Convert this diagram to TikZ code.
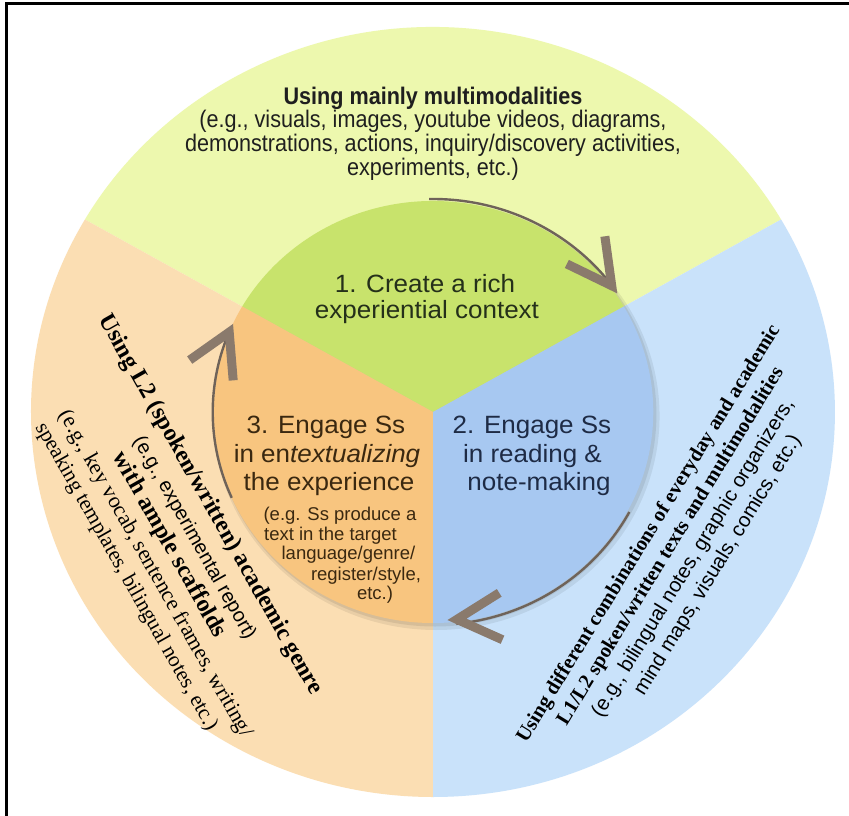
\documentclass[tikz,border=0pt]{standalone}
\usepackage{fontspec}
\setmainfont{Liberation Sans}
\newfontfamily\narrowsans[FakeStretch=0.9]{Liberation Sans}
\newfontfamily\widesans[FakeStretch=1.04]{Liberation Sans}
\newfontfamily\timesf{Liberation Serif}
\definecolor{ogreen}{HTML}{EDF8AE}
\definecolor{igreen}{HTML}{C8E36C}
\definecolor{oorange}{HTML}{FBDEB3}
\definecolor{iorange}{HTML}{F8C57F}
\definecolor{oblue}{HTML}{C9E2FA}
\definecolor{iblue}{HTML}{A7C8F1}
\definecolor{arrowc}{HTML}{8A7A6C}
\definecolor{arcc}{HTML}{6F6359}
\definecolor{labg}{HTML}{25301A}
\definecolor{labb}{HTML}{1E2B45}
\definecolor{labo}{HTML}{3A2810}
\tikzset{
  toptxt/.style={font=\narrowsans\fontsize{24}{24}\selectfont, anchor=base, text=black!88, inner sep=0},
  lab/.style={font=\widesans\fontsize{25}{28}\selectfont, anchor=base, inner sep=0},
  smalltxt/.style={font=\fontsize{18.5}{20}\selectfont, anchor=base, inner sep=0, text=labo},
  rotl/.style={rotate=-60.5, inner sep=0, anchor=center},
  rotr/.style={rotate=58.5, inner sep=0, anchor=center},
  chev/.style={draw=arrowc, line width=9pt, line join=miter, line cap=butt},
  arcl/.style={draw=arcc, line width=2.4pt},
}
\begin{document}
\begin{tikzpicture}[x=1pt,y=-1pt]
\useasboundingbox (0,0) rectangle (849,816);
\fill[white] (0,0) rectangle (849,816);
\begin{scope}[shift={(433,412)}, xscale=1.044, yscale=-1]
  \fill[ogreen] (0,0) -- (30:385) arc[start angle=30, end angle=150, radius=385] -- cycle;
  \fill[oorange] (0,0) -- (150:385) arc[start angle=150, end angle=270, radius=385] -- cycle;
  \fill[oblue] (0,0) -- (270:385) arc[start angle=270, end angle=390, radius=385] -- cycle;
  \fill[black, opacity=0.07] (3,-4) circle[radius=214];
  \fill[black, opacity=0.08] (2,-2.5) circle[radius=212];
  \fill[igreen] (0,0) -- (30:211) arc[start angle=30, end angle=150, radius=211] -- cycle;
  \fill[iorange] (0,0) -- (150:211) arc[start angle=150, end angle=270, radius=211] -- cycle;
  \fill[iblue] (0,0) -- (270:211) arc[start angle=270, end angle=390, radius=211] -- cycle;
  \draw[arcl] (91:213) arc[start angle=91, end angle=36, radius=213];
  \draw[arcl] (332:213) arc[start angle=332, end angle=276, radius=213];
  \draw[arcl] (204:211) arc[start angle=204, end angle=157, radius=211];
\end{scope}
% chevrons
\draw[chev, shift={(617,293)}, rotate=-54] (-53,23.5) -- (-9,0) -- (-53,-23.5);
\draw[chev, shift={(448,620)}, rotate=184] (-53,23.5) -- (-9,0) -- (-53,-23.5);
\draw[chev, shift={(233,324)}, rotate=65] (-51,24) -- (-9,0) -- (-51,-24);
% top text
\node[toptxt] (t1) at (433,104) {\textbf{Using mainly multimodalities}};
\node[toptxt] (t2) at (433,128) {(e.g., visuals, images, youtube videos, diagrams,};
\node[toptxt] (t3) at (433,151.5) {demonstrations, actions, inquiry/discovery activities,};
\node[toptxt] (t4) at (433,175) {experiments, etc.)};
% inner labels
\node[lab, text=labg] (l1a) at (425,292) {1. Create a rich};
\node[lab, text=labg] (l1b) at (427,318) {experiential context};
\node[lab, text=labo] (l3a) at (326,433) {3. Engage Ss};
\node[lab, text=labo] (l3b) at (327,462) {in en\textit{textualizing}};
\node[lab, text=labo] (l3c) at (329,490) {the experience};
\node[smalltxt] (s1) at (340,520) {(e.g. Ss produce a};
\node[smalltxt] (s2) at (330.5,540) {text in the target};
\node[smalltxt] (s3) at (348.5,559) {language/genre/};
\node[smalltxt] (s4) at (366,580) {register/style,};
\node[smalltxt] (s5) at (375,599) {etc.)};
\node[lab, text=labb] (l2a) at (532,433) {2. Engage Ss};
\node[lab, text=labb] (l2b) at (532.5,462) {in reading \&};
\node[lab, text=labb] (l2c) at (539,490) {note-making};
% left rotated text
\node[rotl, font=\timesf\bfseries\fontsize{24}{26}\selectfont] (lt1) at (210,505) {Using L2 (spoken/written) academic genre};
\node[rotl, font=\fontsize{20}{22}\selectfont] (lt2) at (194,538) {(e.g., experimental report)};
\node[rotl, font=\timesf\bfseries\fontsize{24}{26}\selectfont] (lt3) at (169,545) {with ample scaffolds};
\node[rotl, font=\timesf\fontsize{22}{24}\selectfont] (lt4) at (155,574) {(e.g., key vocab, sentence frames, writing/};
\node[rotl, font=\timesf\fontsize{21.5}{24}\selectfont] (lt5) at (126,577) {speaking templates, bilingual notes, etc.)};
% right rotated text
\node[rotr, font=\timesf\bfseries\fontsize{20.5}{23}\selectfont] (rt1) at (649,534) {Using different combinations of everyday and academic};
\node[rotr, font=\timesf\bfseries\fontsize{20.5}{23}\selectfont] (rt2) at (671,546.5) {L1/L2 spoken/written texts and multimodalities};
\node[rotr, font=\fontsize{20.5}{23}\selectfont] (rt3) at (693.5,558) {(e.g., bilingual notes, graphic organizers,};
\node[rotr, font=\fontsize{20.5}{23}\selectfont] (rt4) at (718,565.5) {mind maps, visuals, comics, etc.)};
% frame
\draw[line width=3pt] (6,816) -- (6,3.5) -- (849,3.5);
\end{tikzpicture}
\end{document}
